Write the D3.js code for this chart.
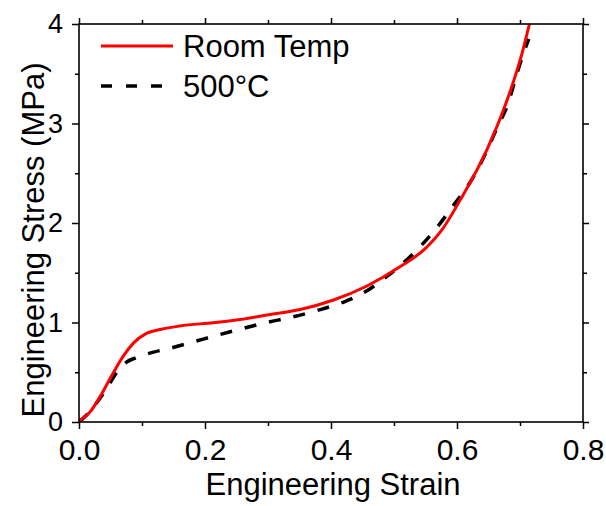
<!DOCTYPE html>
<html>
<head>
<meta charset="utf-8">
<script src="https://cdn.jsdelivr.net/npm/d3@7"></script>
<style>
  body { margin: 0; background: #fff; }
  svg { display: block; }
  text { font-family: "Liberation Sans", Arial, sans-serif; fill: #000; }
</style>
</head>
<body>
<svg id="chart"></svg>
<script>
// Series
const strainRT = [0, 0.0175, 0.033, 0.054, 0.070, 0.086, 0.107, 0.129, 0.160, 0.213, 0.256, 0.298, 0.351, 0.404, 0.457, 0.510, 0.550, 0.576, 0.605, 0.647, 0.674, 0.689, 0.703, 0.715];
const stressRT = [0.01, 0.10, 0.25, 0.49, 0.66, 0.79, 0.89, 0.93, 0.965, 0.998, 1.03, 1.075, 1.13, 1.226, 1.367, 1.562, 1.745, 1.93, 2.23, 2.73, 3.14, 3.41, 3.70, 4.0];

const strain500 = [0, 0.012, 0.039, 0.065, 0.075, 0.090, 0.117, 0.144, 0.184, 0.224, 0.260, 0.298, 0.335, 0.383, 0.422, 0.459, 0.488, 0.531, 0.565, 0.597, 0.623, 0.644, 0.663, 0.681, 0.695, 0.711, 0.714];
const stress500 = [0, 0.07, 0.29, 0.54, 0.60, 0.645, 0.70, 0.74, 0.81, 0.88, 0.94, 1.0, 1.05, 1.13, 1.21, 1.327, 1.46, 1.695, 1.93, 2.2, 2.43, 2.68, 2.95, 3.2, 3.5, 3.8, 3.85];

const xMajor = [0, 0.2, 0.4, 0.6, 0.8];
const xMinor = [0.1, 0.3, 0.5, 0.7];
const yMajor = [0, 1, 2, 3, 4];
const yMinor = [0.5, 1.5, 2.5, 3.5];

const seriesNames = ['Room Temp', '500\u00B0C'];

const width = 606, height = 506;
const margin = { top: 24, right: 23, bottom: 84, left: 79 };
const innerWidth = width - margin.left - margin.right;
const innerHeight = height - margin.top - margin.bottom;

const svg = d3.select('#chart').attr('width', width).attr('height', height);

const x = d3.scaleLinear().domain([0, 0.8]).range([0, innerWidth]);
const y = d3.scaleLinear().domain([0, 4]).range([innerHeight, 0]);

const g = svg.append('g').attr('transform', `translate(${margin.left},${margin.top})`);

// clip so the red curve stops at the frame
g.append('clipPath').attr('id', 'clip')
  .append('rect').attr('width', innerWidth).attr('height', innerHeight);

const line = d3.line()
  .x(d => x(d[0]))
  .y(d => y(d[1]))
  .curve(d3.curveMonotoneX);

const rt = strainRT.map((s, i) => [s, stressRT[i]]);
const hot = strain500.map((s, i) => [s, stress500[i]]);

const curves = g.append('g').attr('clip-path', 'url(#clip)');

curves.append('path')
  .attr('d', line(hot))
  .attr('fill', 'none')
  .attr('stroke', '#000')
  .attr('stroke-width', 3.5)
  .attr('stroke-dasharray', '12,13');

curves.append('path')
  .attr('d', line(rt))
  .attr('fill', 'none')
  .attr('stroke', '#ff0000')
  .attr('stroke-width', 3);

// axes: major + minor ticks, mirrored on top and right
function styleAxis(sel) {
  sel.select('.domain').remove();
  sel.selectAll('line').attr('stroke', '#000').attr('stroke-width', 1.5);
  // drop the empty labels of the unlabeled tick sets
  sel.selectAll('text').filter(function () { return !this.textContent; }).remove();
}

g.append('g').attr('transform', `translate(0,${innerHeight})`)
  .call(d3.axisBottom(x).tickValues(xMajor).tickSize(7).tickPadding(8).tickFormat(d3.format('.1f')))
  .call(styleAxis)
  .selectAll('text').style('font-size', '30px').attr('dy', '0.76em');

g.append('g').attr('transform', `translate(0,${innerHeight})`)
  .call(d3.axisBottom(x).tickValues(xMinor).tickSize(4).tickFormat(''))
  .call(styleAxis);

g.append('g')
  .call(d3.axisTop(x).tickValues(xMajor).tickSize(6).tickFormat(''))
  .call(styleAxis);
g.append('g')
  .call(d3.axisTop(x).tickValues(xMinor).tickSize(4).tickFormat(''))
  .call(styleAxis);

g.append('g')
  .call(d3.axisLeft(y).tickValues(yMajor).tickSize(7).tickPadding(9).tickFormat(d3.format('d')))
  .call(styleAxis)
  .selectAll('text').style('font-size', '27px');

g.append('g')
  .call(d3.axisLeft(y).tickValues(yMinor).tickSize(4).tickFormat(''))
  .call(styleAxis);

g.append('g').attr('transform', `translate(${innerWidth},0)`)
  .call(d3.axisRight(y).tickValues(yMajor).tickSize(6).tickFormat(''))
  .call(styleAxis);
g.append('g').attr('transform', `translate(${innerWidth},0)`)
  .call(d3.axisRight(y).tickValues(yMinor).tickSize(4).tickFormat(''))
  .call(styleAxis);

// frame
g.append('rect')
  .attr('width', innerWidth)
  .attr('height', innerHeight)
  .attr('fill', 'none')
  .attr('stroke', '#000')
  .attr('stroke-width', 1.6);

// axis titles
svg.append('text')
  .attr('x', margin.left + innerWidth / 2 + 2)
  .attr('y', 495)
  .attr('text-anchor', 'middle')
  .style('font-size', '31px')
  .text('Engineering Strain');

svg.append('text')
  .attr('transform', 'translate(44,240) rotate(-90)')
  .attr('text-anchor', 'middle')
  .style('font-size', '31px')
  .text('Engineering Stress (MPa)');

// legend
const legend = svg.append('g');
legend.append('line')
  .attr('x1', 101).attr('x2', 173).attr('y1', 46).attr('y2', 46)
  .attr('stroke', '#ff0000').attr('stroke-width', 3);
legend.append('text')
  .attr('x', 183).attr('y', 57)
  .style('font-size', '31px')
  .text(seriesNames[0]);

legend.append('line')
  .attr('x1', 101).attr('x2', 163).attr('y1', 86).attr('y2', 86)
  .attr('stroke', '#000').attr('stroke-width', 3.5)
  .attr('stroke-dasharray', '11,14');
legend.append('text')
  .attr('x', 183).attr('y', 97)
  .style('font-size', '31px')
  .text(seriesNames[1]);
</script>
</body>
</html>
